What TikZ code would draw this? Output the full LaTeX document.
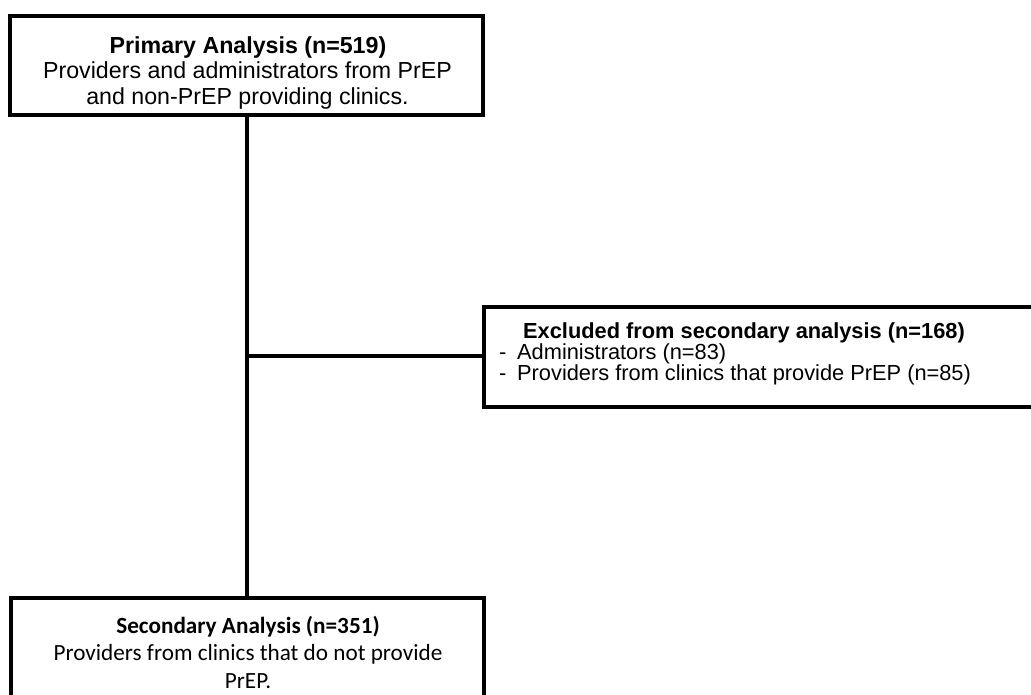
\documentclass[tikz,border=0pt]{standalone}
\usepackage{fontspec}
\setmainfont{Liberation Sans}
\newfontfamily\calibrifont{Carlito}
\begin{document}
\begin{tikzpicture}[x=1pt,y=-1pt,
  box/.style={draw=black,line width=4pt,fill=white,rectangle,inner sep=0pt,outer sep=0pt},
  conn/.style={draw=black,line width=4pt},
  txt/.style={inner sep=0pt,anchor=base},
  arialtxt/.style={txt,font=\fontsize{23.2}{26}\selectfont},
  smalltxt/.style={txt,font=\fontsize{21.8}{24}\selectfont},
  caltxt/.style={txt,font=\calibrifont\fontsize{23.2}{27}\selectfont}]
\useasboundingbox (0,0) rectangle (1031,694);
\clip (0,0) rectangle (1031,694);
\fill[white] (0,0) rectangle (1031,694);

% boxes
\node[box,minimum width=473pt,minimum height=99pt] (prim) at (246.5,65.5) {};
\node[box,minimum width=556pt,minimum height=100pt] (excl) at (762,357) {};
\node[box,minimum width=473pt,minimum height=122pt] (sec) at (247.5,659) {};

% connectors
\coordinate (junc) at (247,356);
\draw[conn] (prim.south -| junc) -- (sec.north -| junc);
\draw[conn] (junc) -- (excl.west |- junc);

% primary analysis text
\node[arialtxt,font=\bfseries\fontsize{23.2}{26}\selectfont] (p1) at (248,53) {Primary Analysis (n=519)};
\node[arialtxt] (p2) at (247.5,78.5) {Providers and administrators from PrEP};
\node[arialtxt] (p3) at (247.5,104) {and non-PrEP providing clinics.};

% exclusion text
\node[smalltxt,font=\bfseries\fontsize{21.8}{24}\selectfont] (e1) at (744,338) {Excluded from secondary analysis (n=168)};
\node[smalltxt,anchor=base west] (e2) at (499,359) {\makebox[18pt][l]{-}Administrators (n=83)};
\node[smalltxt,anchor=base west] (e3) at (499,380) {\makebox[18pt][l]{-}Providers from clinics that provide PrEP (n=85)};

% secondary analysis text
\node[caltxt,font=\calibrifont\bfseries\fontsize{23.2}{27}\selectfont] (s1) at (248,633) {Secondary Analysis (n=351)};
\node[caltxt] (s2) at (248,660) {Providers from clinics that do not provide};
\node[caltxt] (s3) at (248,688) {PrEP.};
\end{tikzpicture}
\end{document}
